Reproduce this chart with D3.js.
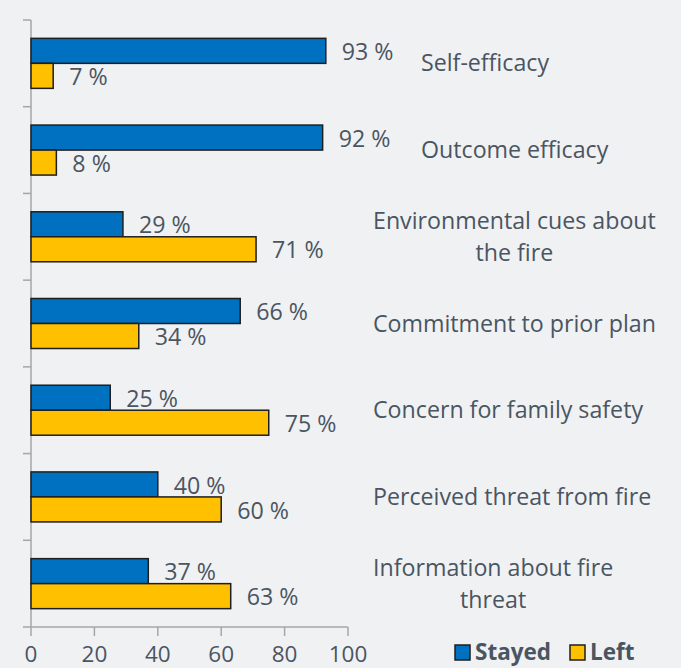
<!DOCTYPE html>
<html><head><meta charset="utf-8">
<script src="https://cdn.jsdelivr.net/npm/d3@7/dist/d3.min.js"></script>
<style>
html,body{margin:0;padding:0;background:#f0f1f3;}
svg{display:block;}
</style></head>
<body>
<script>
const categories = [
  ["Self-efficacy"],
  ["Outcome efficacy"],
  ["Environmental cues about", "the fire"],
  ["Commitment to prior plan"],
  ["Concern for family safety"],
  ["Perceived threat from fire"],
  ["Information about fire", "threat"]
];
const stayed = [93, 92, 29, 66, 25, 40, 37];
const left = [7, 8, 71, 34, 75, 60, 63];
const seriesNames = ["Stayed", "Left"];
const xTicks = [0, 20, 40, 60, 80, 100];

const W = 681, H = 668;
const textColor = "#4a5562";
const font = "'Open Sans', sans-serif";
const fs = 23.2;
const colors = ["#0070c0", "#ffc000"];

const svg = d3.select("body").append("svg").attr("width", W).attr("height", H);

const x = d3.scaleLinear().domain([0, 100]).range([31, 348]);
const y = d3.scaleBand().domain(d3.range(categories.length)).range([20, 627]).paddingInner(0).paddingOuter(0);
const barH = 25;

// axes
const axisColor = "#a6a6a6";
svg.append("line").attr("x1", 31).attr("x2", 31).attr("y1", y.range()[0]).attr("y2", y.range()[1])
  .attr("stroke", axisColor).attr("stroke-width", 1.5);
svg.append("line").attr("x1", x(0)).attr("x2", x(100)).attr("y1", 627).attr("y2", 627)
  .attr("stroke", axisColor).attr("stroke-width", 1.5);
const bounds = d3.range(categories.length + 1).map(i => i < categories.length ? y(i) : y.range()[1]);
svg.selectAll(".yt").data(bounds).join("line")
  .attr("x1", 23).attr("x2", 31).attr("y1", d => d).attr("y2", d => d)
  .attr("stroke", axisColor).attr("stroke-width", 1.5);
svg.selectAll(".xt").data(xTicks).join("line")
  .attr("x1", d => x(d)).attr("x2", d => x(d)).attr("y1", 627).attr("y2", 636)
  .attr("stroke", axisColor).attr("stroke-width", 1.5);
svg.selectAll(".xl").data(xTicks).join("text")
  .attr("x", d => x(d)).attr("y", 662).attr("text-anchor", "middle")
  .attr("font-family", font).attr("font-size", 22.5).attr("fill", textColor)
  .text(d => d);

// bars
const series = [stayed, left];
series.forEach((vals, s) => {
  const g = svg.append("g");
  g.selectAll("rect").data(vals).join("rect")
    .attr("x", x(0))
    .attr("y", (d, i) => y(i) + y.bandwidth() / 2 - barH + s * barH)
    .attr("width", d => x(d) - x(0))
    .attr("height", barH)
    .attr("fill", colors[s]).attr("stroke", "#1e1e1e").attr("stroke-width", 1.5);
  g.selectAll("text").data(vals).join("text")
    .attr("x", d => x(d) + 16)
    .attr("y", (d, i) => y(i) + y.bandwidth() / 2 - barH / 2 + s * barH + 1)
    .attr("dy", "0.35em")
    .attr("font-family", font).attr("font-size", fs).attr("fill", textColor)
    .text(d => d + " %");
});

// category labels
const labelLeft = [421, 421, 373, 373, 373, 373, 373];
categories.forEach((lines, i) => {
  const cy = y(i) + y.bandwidth() / 2;
  const lh = 32;
  const t = svg.append("text").attr("font-family", font).attr("font-size", fs).attr("fill", textColor);
  const first = t.append("tspan").text(lines[0]).attr("x", labelLeft[i]).attr("y", cy - (lines.length - 1) * lh / 2).attr("dy", "0.35em");
  const w = first.node().getComputedTextLength();
  lines.slice(1).forEach((ln, k) => {
    t.append("tspan").text(ln).attr("x", labelLeft[i] + w / 2).attr("text-anchor", "middle")
      .attr("y", cy - (lines.length - 1) * lh / 2 + (k + 1) * lh).attr("dy", "0.35em");
  });
});

// legend
const leg = svg.append("g");
const legX = [455, 570];
seriesNames.forEach((n, i) => {
  leg.append("rect").attr("x", legX[i]).attr("y", 645).attr("width", 15).attr("height", 15)
    .attr("fill", colors[i]).attr("stroke", "#1e1e1e").attr("stroke-width", 1.5);
  leg.append("text").attr("x", legX[i] + 20).attr("y", 652.5).attr("dy", "0.35em")
    .attr("font-family", font).attr("font-size", 22.5).attr("font-weight", "bold").attr("fill", textColor)
    .text(n);
});
</script>
</body></html>
